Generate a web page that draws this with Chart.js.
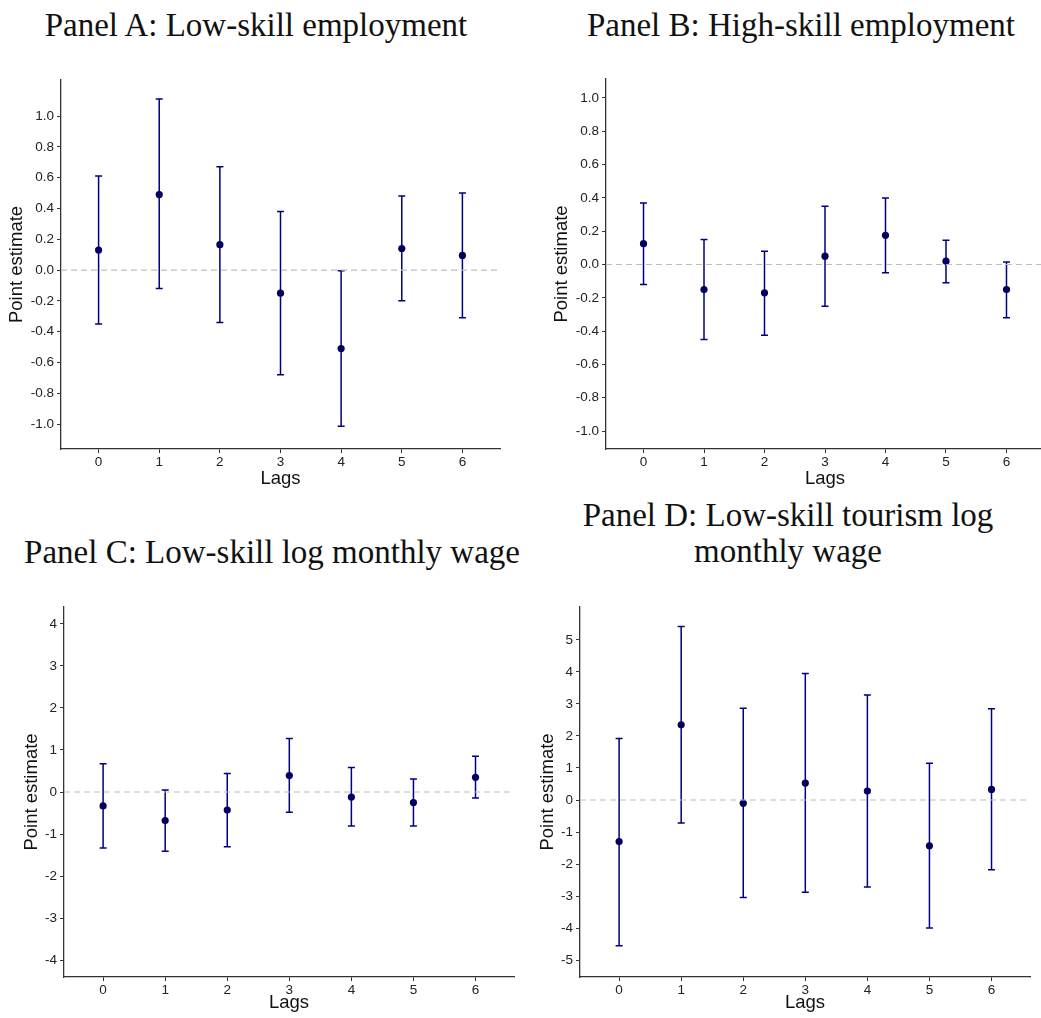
<!DOCTYPE html>
<html lang="en">
<head>
    <meta charset="UTF-8">
    <title>Lag estimates</title>
    <script src="https://cdn.jsdelivr.net/npm/chart.js"></script>
    <style>
        html, body { margin: 0; padding: 0; background: #fff; overflow: hidden; }
        #page { position: relative; width: 1041px; height: 1018px; overflow: hidden; }
        .ttl { position: absolute; font-family: "Liberation Serif", serif; font-size: 33px;
               line-height: 36px; color: #111; text-align: center; white-space: nowrap; }
        canvas { position: absolute; }
    </style>
</head>
<body>
<div id="page">
    <div class="ttl" style="left:0;top:7px;width:512px">Panel A: Low-skill employment</div>
    <div class="ttl" style="left:545px;top:7px;width:512px">Panel B: High-skill employment</div>
    <div class="ttl" style="left:0;top:534px;width:544px">Panel C: Low-skill log monthly wage</div>
    <div class="ttl" style="left:530px;top:497px;width:516px">Panel D: Low-skill tourism log<br>monthly wage</div>
    <canvas id="chartA"></canvas>
    <canvas id="chartB"></canvas>
    <canvas id="chartC"></canvas>
    <canvas id="chartD"></canvas>
</div>

<script>
    // lags on the x axis
    const lags = [0, 1, 2, 3, 4, 5, 6];

    // Panel A: low-skill employment
    const estA = [0.13, 0.49, 0.165, -0.15, -0.51, 0.14, 0.095];
    const loA  = [-0.35, -0.12, -0.34, -0.68, -1.015, -0.20, -0.31];
    const hiA  = [0.61, 1.11, 0.67, 0.38, -0.005, 0.48, 0.50];
    const yTicksA = [-1.0, -0.8, -0.6, -0.4, -0.2, 0.0, 0.2, 0.4, 0.6, 0.8, 1.0];

    // Panel B: high-skill employment
    const estB = [0.125, -0.15, -0.17, 0.05, 0.175, 0.02, -0.15];
    const loB  = [-0.12, -0.45, -0.425, -0.25, -0.05, -0.11, -0.32];
    const hiB  = [0.37, 0.15, 0.08, 0.35, 0.40, 0.145, 0.015];
    const yTicksB = [-1.0, -0.8, -0.6, -0.4, -0.2, 0.0, 0.2, 0.4, 0.6, 0.8, 1.0];

    // Panel C: low-skill log monthly wage
    const estC = [-0.33, -0.68, -0.43, 0.39, -0.12, -0.25, 0.35];
    const loC  = [-1.33, -1.41, -1.30, -0.48, -0.81, -0.81, -0.14];
    const hiC  = [0.67, 0.05, 0.44, 1.27, 0.58, 0.31, 0.85];
    const yTicksC = [-4, -3, -2, -1, 0, 1, 2, 3, 4];

    // Panel D: low-skill tourism log monthly wage
    const estD = [-1.3, 2.35, -0.1, 0.53, 0.28, -1.43, 0.33];
    const loD  = [-4.55, -0.72, -3.05, -2.88, -2.72, -4.0, -2.18];
    const hiD  = [1.92, 5.42, 2.87, 3.95, 3.28, 1.15, 2.85];
    const yTicksD = [-5, -4, -3, -2, -1, 0, 1, 2, 3, 4, 5];

    const navy = '#000080';
    const axisCol = '#333333';

    // whiskers with caps, drawn under the points
    const errorBars = {
        id: 'errorBars',
        beforeDatasetsDraw(chart, args, opts) {
            const { ctx, scales: { x, y } } = chart;
            ctx.save();
            ctx.strokeStyle = navy;
            ctx.lineWidth = 1.5;
            opts.lo.forEach((lo, i) => {
                const px = x.getPixelForValue(lags[i]);
                const y1 = y.getPixelForValue(lo);
                const y2 = y.getPixelForValue(opts.hi[i]);
                ctx.beginPath();
                ctx.moveTo(px, y1); ctx.lineTo(px, y2);
                ctx.moveTo(px - 3.5, y1); ctx.lineTo(px + 3.5, y1);
                ctx.moveTo(px - 3.5, y2); ctx.lineTo(px + 3.5, y2);
                ctx.stroke();
            });
            ctx.restore();
        }
    };

    function makePanel(id, p) {
        const canvas = document.getElementById(id);
        const left = p.axisL - 61, top = p.top - 20;
        const width = p.right - left, height = p.bottom + 41 - top;
        canvas.width = width; canvas.height = height;
        canvas.style.left = left + 'px'; canvas.style.top = top + 'px';
        canvas.style.width = width + 'px'; canvas.style.height = height + 'px';

        new Chart(canvas, {
            type: 'scatter',
            data: {
                datasets: [
                    {
                        type: 'line',
                        data: [{ x: p.xMin, y: 0 }, { x: p.xMax, y: 0 }],
                        borderColor: '#bdbdbd',
                        borderWidth: 1.2,
                        borderDash: [6, 4],
                        pointRadius: 0
                    },
                    {
                        data: lags.map((l, i) => ({ x: l, y: p.est[i] })),
                        pointRadius: 3.6,
                        backgroundColor: '#00005e',
                        borderWidth: 0
                    }
                ]
            },
            plugins: [errorBars],
            options: {
                responsive: false,
                animation: false,
                events: [],
                layout: { padding: { left: 0, top: 20, right: 0, bottom: 0 } },
                plugins: {
                    legend: { display: false },
                    tooltip: { enabled: false },
                    errorBars: { lo: p.lo, hi: p.hi }
                },
                scales: {
                    x: {
                        type: 'linear',
                        min: p.xMin,
                        max: p.xMax,
                        afterBuildTicks: s => { s.ticks = lags.map(v => ({ value: v })); },
                        afterFit: s => { s.height = 41; },
                        grid: { display: true, drawOnChartArea: false, tickLength: 4, color: axisCol, lineWidth: 1 },
                        border: { display: true, color: axisCol, width: 1.3 },
                        ticks: { padding: 1, color: '#222', font: { family: 'Liberation Sans', size: 13.5 } },
                        title: {
                            display: true, text: 'Lags', color: '#111',
                            font: { family: 'Liberation Sans', size: 18.5 },
                            padding: { top: 0, bottom: p.lagsPad }
                        }
                    },
                    y: {
                        min: p.yMin,
                        max: p.yMax,
                        afterBuildTicks: s => { s.ticks = p.yTicks.map(v => ({ value: v })); },
                        afterFit: s => { s.width = 61; },
                        grid: { display: true, drawOnChartArea: false, tickLength: 4, color: axisCol, lineWidth: 1 },
                        border: { display: true, color: axisCol, width: 1.3 },
                        ticks: {
                            padding: 3, color: '#222',
                            font: { family: 'Liberation Sans', size: 13.5 },
                            callback: v => p.digits ? v.toFixed(p.digits) : String(v)
                        },
                        title: {
                            display: true, text: 'Point estimate', color: '#111',
                            font: { family: 'Liberation Sans', size: 18.5 },
                            padding: { top: p.yTitlePad, bottom: 0 }
                        }
                    }
                }
            }
        });
    }

    makePanel('chartA', {
        est: estA, lo: loA, hi: hiA, yTicks: yTicksA, digits: 1,
        axisL: 61, top: 80, bottom: 449, right: 504,
        xMin: -0.62, xMax: 6.62, yMin: -1.162, yMax: 1.234,
        lagsPad: 0, yTitlePad: 6
    });
    makePanel('chartB', {
        est: estB, lo: loB, hi: hiB, yTicks: yTicksB, digits: 1,
        axisL: 606, top: 79, bottom: 449, right: 1048,
        xMin: -0.62, xMax: 6.62, yMin: -1.108, yMax: 1.114,
        lagsPad: 0, yTitlePad: 6
    });
    makePanel('chartC', {
        est: estC, lo: loC, hi: hiC, yTicks: yTicksC, digits: 0,
        axisL: 64, top: 607, bottom: 977, right: 518,
        xMin: -0.63, xMax: 6.62, yMin: -4.4, yMax: 4.4,
        lagsPad: 4, yTitlePad: 18
    });
    makePanel('chartD', {
        est: estD, lo: loD, hi: hiD, yTicks: yTicksD, digits: 0,
        axisL: 580, top: 607, bottom: 977, right: 1034,
        xMin: -0.63, xMax: 6.62, yMin: -5.53, yMax: 6.03,
        lagsPad: 4, yTitlePad: 18
    });
</script>
</body>
</html>
